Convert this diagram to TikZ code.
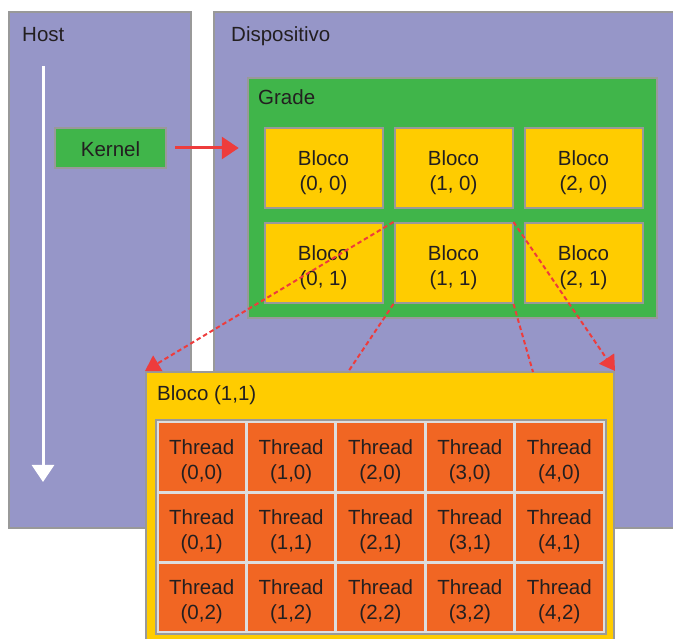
\documentclass[tikz,border=0pt]{standalone}
\usepackage{fontspec}
\setmainfont{Liberation Sans}
\usepackage{xcolor}
\usetikzlibrary{arrows.meta, positioning, calc}

\definecolor{hostpurple}{RGB}{150,150,200}
\definecolor{gridgreen}{RGB}{64,181,74}
\definecolor{blockyellow}{RGB}{255,204,0}
\definecolor{threadorange}{RGB}{241,102,35}
\definecolor{edgegray}{RGB}{153,153,153}
\definecolor{linegray}{RGB}{222,222,222}
\definecolor{arrowred}{RGB}{238,60,60}
\definecolor{textdark}{RGB}{35,31,32}

\begin{document}
\begin{tikzpicture}[
    x=1pt, y=-1pt,
    panel/.style={rectangle, draw=edgegray, line width=2.5pt, fill=hostpurple, inner sep=0pt},
    gridbox/.style={rectangle, draw=edgegray, line width=2.5pt, fill=gridgreen, inner sep=0pt},
    blockcell/.style={rectangle, draw=edgegray, line width=2pt, fill=blockyellow,
                      minimum width=118pt, minimum height=80pt, inner sep=0pt},
    threadcell/.style={rectangle, draw=linegray, line width=3pt, fill=threadorange,
                       minimum width=89.4pt, minimum height=70pt, inner sep=0pt},
    celltext/.style={inner sep=0pt, align=center, text=textdark,
                     font=\fontsize{20.5}{25}\selectfont},
    title/.style={anchor=base west, inner sep=0pt, text=textdark, font=\fontsize{20.5}{25}\selectfont},
    redarrow/.style={arrowred, line width=3pt, -{Triangle[length=17pt, width=22pt]}},
    dashlink/.style={arrowred, line width=2pt, dash pattern=on 4.5pt off 3pt,
                     -{Triangle[length=15pt, width=18pt]}},
]
    \clip (0,0) rectangle (673,639);

    % ── Host and device panels ────────────────────
    \node[panel, minimum width=182pt, minimum height=516pt] (host) at (100,270) {};
    \node[title] at (22,42) {Host};
    \node[panel, minimum width=476pt, minimum height=516pt] (device) at (452,270) {};
    \node[title] at (231,42) {Dispositivo};

    % host flow
    \coordinate (flowtop) at (43,66);
    \coordinate (flowend) at (43,482);
    \draw[white, line width=3pt, -{Triangle[length=17pt, width=22pt]}] (flowtop) -- (flowend);

    \node[rectangle, draw=edgegray, line width=2.5pt, fill=gridgreen,
          minimum width=111pt, minimum height=40pt] (kernel) at (110.5,148) {};
    \node[celltext] at ([yshift=-1pt]kernel.center) {Kernel};

    % ── Grid of blocks ────────────────────────────
    \node[gridbox, minimum width=409pt, minimum height=240pt] (grade) at (452.5,198) {};
    \node[title] at (258,105) {Grade};
    \foreach \c in {0,1,2}
      \foreach \r in {0,1} {
        \node[blockcell] (b\c\r) at (323.5+130*\c, 168+95*\r) {};
        \node[celltext] (bt\c\r) at ([yshift=-4.5pt]b\c\r.center) {Bloco\\(\c, \r)};
      }

    \draw[redarrow, shorten <=8pt, shorten >=8pt] (kernel.east) -- (kernel.east -| grade.west);

    % ── Zoomed block ──────────────────────────────
    \node[rectangle, draw=edgegray, line width=2pt, fill=blockyellow,
          minimum width=468pt, minimum height=288pt] (big) at (380,516) {};
    \node[title] at (157,401) {Bloco (1,1)};
    \foreach \c in {0,...,4}
      \foreach \r in {0,1,2} {
        \node[threadcell] (t\c\r) at (201.7+89.4*\c, 457+70*\r) {};
        \node[celltext] (tt\c\r) at ([yshift=-4.5pt]t\c\r.center) {Thread\\(\c,\r)};
      }
    \draw[edgegray, line width=2pt] (t00.north west) rectangle (t42.south east);

    % ── Zoom lines ────────────────────────────────
    \coordinate (fanL) at (348,372);
    \coordinate (fanR) at (533,372);
    \draw[dashlink] (b11.north west) -- (big.north west);
    \draw[dashlink] (b11.north east) -- (big.north east);
    \draw[dashlink, -] (b11.south west) -- (fanL);
    \draw[dashlink, -] (b11.south east) -- (fanR);
\end{tikzpicture}
\end{document}
